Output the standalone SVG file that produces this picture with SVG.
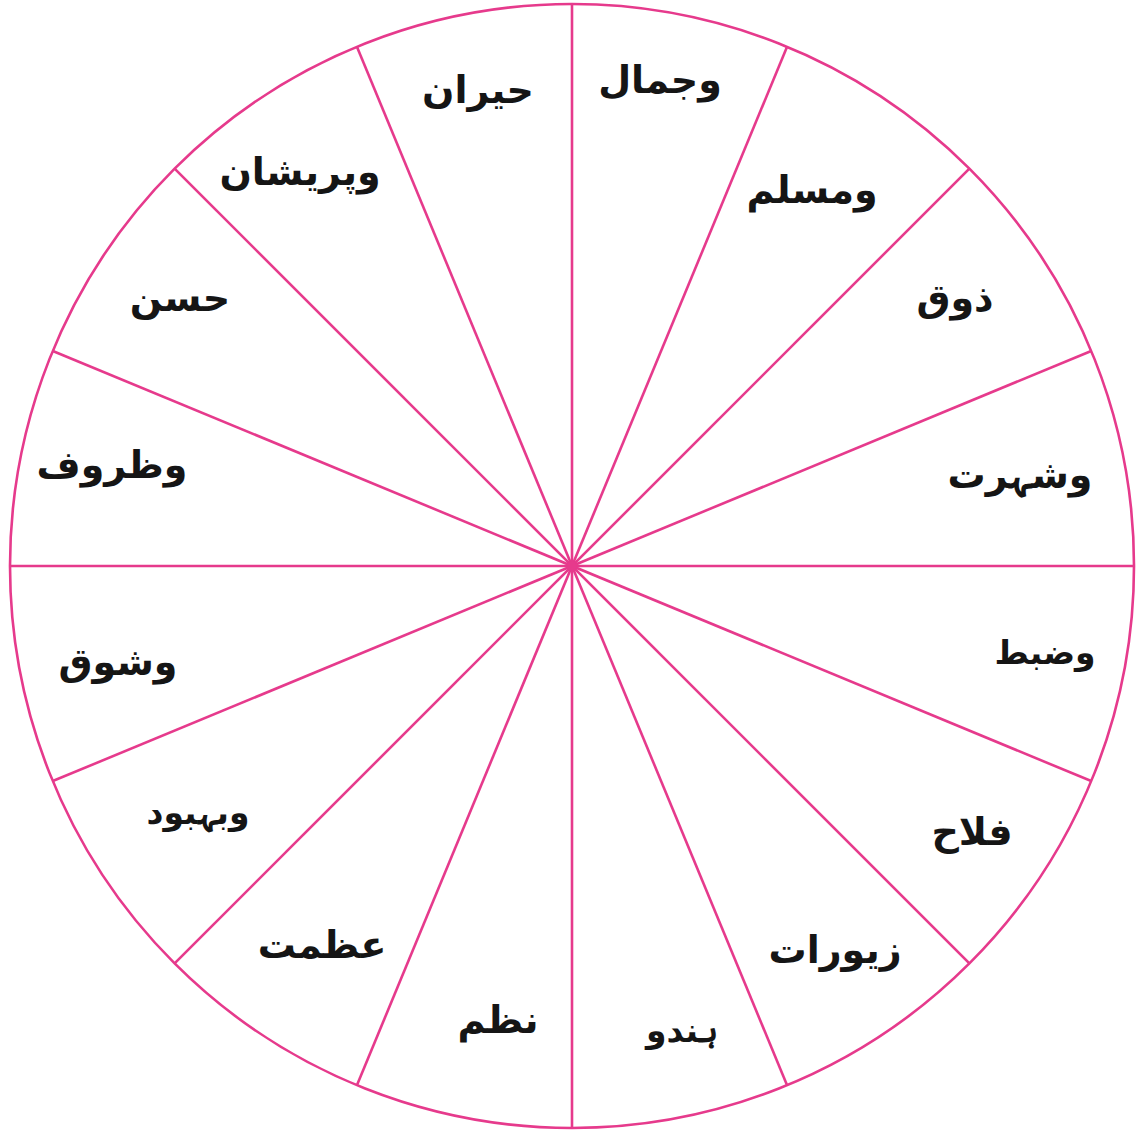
<svg xmlns="http://www.w3.org/2000/svg" width="1137" height="1131" viewBox="0 0 1137 1131">
<style>
.ln{stroke:#e63a8c;stroke-width:2.6;fill:none}
.lb{font-family:"DejaVu Sans",sans-serif;font-size:38px;font-weight:bold;fill:#151515;text-anchor:middle;dominant-baseline:central;direction:rtl}
.sm{font-size:33px}
</style>
<rect width="1137" height="1131" fill="#fff"/>
<g id="connectors">
<circle class="ln" cx="572" cy="566" r="562" stroke-width="3"/>
<line class="ln" x1="572" y1="4" x2="572" y2="1128"/>
<line class="ln" x1="787.07" y1="46.78" x2="356.93" y2="1085.22"/>
<line class="ln" x1="969.39" y1="168.61" x2="174.61" y2="963.39"/>
<line class="ln" x1="1091.22" y1="350.93" x2="52.78" y2="781.07"/>
<line class="ln" x1="1134" y1="566" x2="10" y2="566"/>
<line class="ln" x1="1091.22" y1="781.07" x2="52.78" y2="350.93"/>
<line class="ln" x1="969.39" y1="963.39" x2="174.61" y2="168.61"/>
<line class="ln" x1="787.07" y1="1085.22" x2="356.93" y2="46.78"/>
<circle cx="572" cy="566" r="5" fill="#e63a8c"/>
</g>
<g id="n1"><text class="lb" x="660" y="80">وجمال</text></g>
<g id="n2"><text class="lb" x="478" y="90">حیران</text></g>
<g id="n3"><text class="lb" x="300" y="172">وپریشان</text></g>
<g id="n4"><text class="lb" x="812" y="190">ومسلم</text></g>
<g id="n5"><text class="lb" x="955" y="298">ذوق</text></g>
<g id="n6"><text class="lb" x="180" y="298">حسن</text></g>
<g id="n7"><text class="lb" x="112" y="465">وظروف</text></g>
<g id="n8"><text class="lb" x="1020" y="475">وشہرت</text></g>
<g id="n9"><text class="lb sm" x="1045" y="652">وضبط</text></g>
<g id="n10"><text class="lb" x="118" y="662">وشوق</text></g>
<g id="n11"><text class="lb sm" x="198" y="812">وبہبود</text></g>
<g id="n12"><text class="lb" x="972" y="832">فلاح</text></g>
<g id="n13"><text class="lb" x="322" y="945">عظمت</text></g>
<g id="n14"><text class="lb" x="835" y="950">زیورات</text></g>
<g id="n15"><text class="lb" x="498" y="1020">نظم</text></g>
<g id="n16"><text class="lb sm" x="682" y="1030">ہندو</text></g>
</svg>
